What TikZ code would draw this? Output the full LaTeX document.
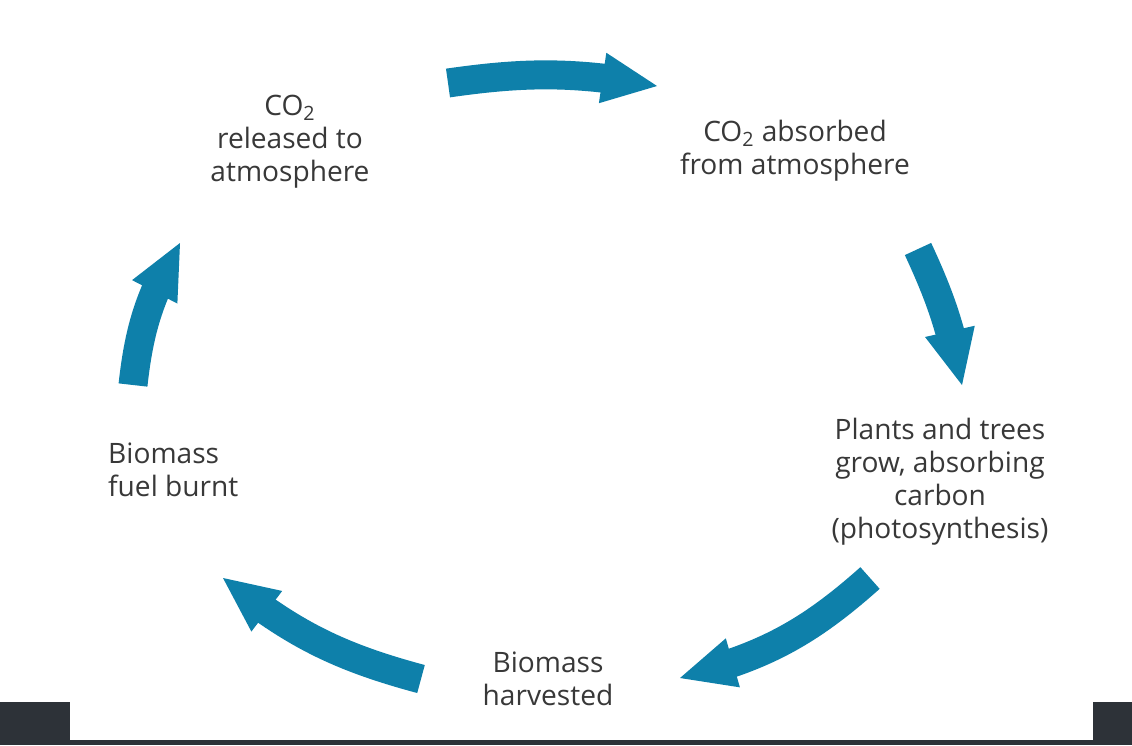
\documentclass[tikz,border=0pt]{standalone}
\usepackage{fontspec}
\setmainfont{Open Sans}
\usepackage{xcolor}
\usetikzlibrary{arrows.meta,bending}
\definecolor{cycleblue}{HTML}{0E80AA}
\definecolor{labelgrey}{HTML}{383838}
\definecolor{framegrey}{HTML}{2D3238}

\begin{document}
\begin{tikzpicture}[x=0.02cm,y=-0.02cm,
    lbl/.style={text=labelgrey,align=center,font=\fontsize{16}{18.8}\selectfont},
    cyc/.style={cycleblue,line width=0.58cm,
      -{Triangle[length=1.1cm,width=1.02cm,line width=0pt,flex]}}]
    \fill[white] (0,0) rectangle (1132,745);
    \useasboundingbox (0,0) rectangle (1132,745);
    % dark frame at the bottom
    \fill[framegrey] (0,702) rectangle (70,745);
    \fill[framegrey] (1093,702) rectangle (1132,745);
    \fill[framegrey] (0,740) rectangle (1132,745);

    \node[lbl] (released) at (290,142) {CO\textsubscript{2}\\released to\\atmosphere};
    \node[lbl] (absorbed) at (795,151) {CO\textsubscript{2} absorbed\\from atmosphere};
    \node[lbl] (grow) at (940,482) {Plants and trees\\grow, absorbing\\carbon\\(photosynthesis)};
    \node[lbl] (harvest) at (548,679) {Biomass\\harvested};
    \node[lbl,align=left,anchor=west] (burnt) at (102,470) {Biomass\\fuel burnt};

    \coordinate (t1) at (448,83);  \coordinate (h1) at (657,86);
    \coordinate (t2) at (918,249); \coordinate (h2) at (962,385);
    \coordinate (t3) at (870,578); \coordinate (h3) at (680,678);
    \coordinate (t4) at (421,679); \coordinate (h4) at (223,578);
    \coordinate (t5) at (133,385); \coordinate (h5) at (180,243);

    \draw[cyc] (t1) to[bend left=9] (h1);
    \draw[cyc] (t2) to[bend left=7] (h2);
    \draw[cyc] (t3) to[bend left=14] (h3);
    \draw[cyc] (t4) to[bend left=12] (h4);
    \draw[cyc] (t5) to[bend left=12] (h5);
\end{tikzpicture}
\end{document}
